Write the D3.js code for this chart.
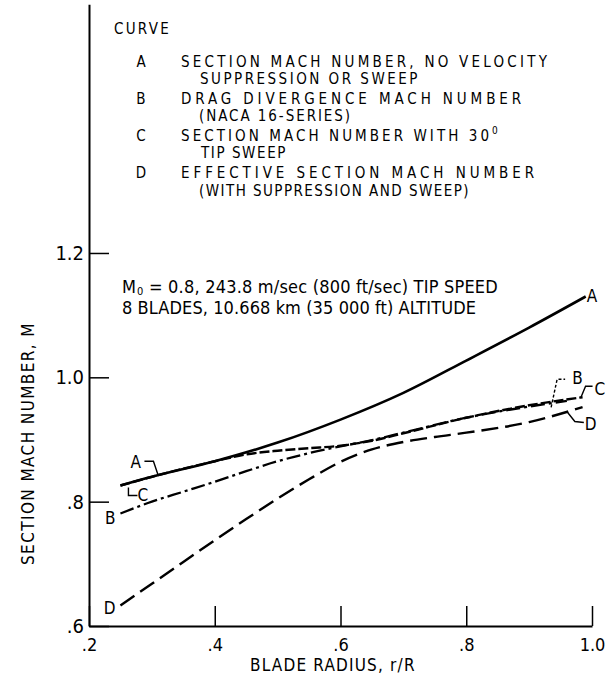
<!DOCTYPE html>
<html>
<head>
<meta charset="utf-8">
<script src="https://cdn.jsdelivr.net/npm/d3@7"></script>
<style>
  html, body { margin: 0; padding: 0; background: #fff; }
  svg { display: block; }
  text { font-family: "DejaVu Sans Condensed", "Liberation Sans Narrow", "DejaVu Sans", sans-serif; font-stretch: condensed; fill: #000; }
</style>
</head>
<body>
<svg id="chart" width="607" height="679"></svg>
<script>
// Section Mach number along the blade radius, r/R -> M
const curveA = [[0.25,0.826],[0.30,0.840],[0.40,0.865],[0.50,0.895],[0.60,0.932],[0.70,0.975],[0.80,1.027],[0.90,1.080],[0.99,1.130]];
const curveB = [[0.25,0.781],[0.30,0.800],[0.35,0.816],[0.40,0.832],[0.45,0.849],[0.50,0.865],[0.55,0.878],[0.60,0.889],[0.65,0.899],[0.70,0.911],[0.80,0.935],[0.90,0.953],[0.96,0.962]];
const curveC = [[0.25,0.826],[0.30,0.840],[0.40,0.865],[0.45,0.876],[0.50,0.882],[0.55,0.886],[0.60,0.890],[0.65,0.898],[0.70,0.910],[0.80,0.935],[0.90,0.955],[0.985,0.968]];
const curveD = [[0.25,0.633],[0.30,0.668],[0.35,0.703],[0.40,0.738],[0.45,0.772],[0.50,0.805],[0.55,0.836],[0.60,0.864],[0.65,0.884],[0.70,0.896],[0.75,0.904],[0.80,0.911],[0.90,0.928],[0.985,0.952]];

const xTicks = [0.2, 0.4, 0.6, 0.8, 1.0];
const xTickLabels = [".2", ".4", ".6", ".8", "1.0"];
const yTicks = [0.6, 0.8, 1.0, 1.2];
const yTickLabels = [".6", ".8", "1.0", "1.2"];

const legendKeys = ["A", "B", "C", "D"];
const legendLines = [
  ["SECTION MACH NUMBER, NO VELOCITY", "SUPPRESSION OR SWEEP"],
  ["DRAG DIVERGENCE MACH NUMBER", "(NACA 16-SERIES)"],
  ["SECTION MACH NUMBER WITH 30", "TIP SWEEP"],
  ["EFFECTIVE SECTION MACH NUMBER", "(WITH SUPPRESSION AND SWEEP)"]
];
const conditionLines = ["= 0.8,  243.8 m/sec (800 ft/sec) TIP SPEED", "8 BLADES,  10.668 km  (35 000 ft) ALTITUDE"];

const svg = d3.select("#chart");
const x = d3.scaleLinear().domain([0.2, 1.0]).range([89, 592]);
const y = d3.scaleLinear().domain([0.6, 1.6]).range([626, 4.3]);

// interpolate a curve's value at a given radius
function at(curve, r) {
  for (let i = 1; i < curve.length; i++) {
    if (r <= curve[i][0]) {
      const [r0, m0] = curve[i - 1], [r1, m1] = curve[i];
      return m0 + (m1 - m0) * (r - r0) / (r1 - r0);
    }
  }
  return curve[curve.length - 1][1];
}
const pt = (curve, r) => [x(r), y(at(curve, r))];

// stretch a run of lettering to a given width with letter spacing
function fit(sel, width) {
  const node = sel.node();
  const n = sel.text().length;
  const w = node.getComputedTextLength();
  sel.attr("letter-spacing", ((width - w) / n).toFixed(2));
  return sel;
}

// axes: ticks point inward
const gx = svg.append("g")
  .attr("transform", "translate(0,626)")
  .call(d3.axisBottom(x).tickValues(xTicks).tickFormat((d, i) => xTickLabels[i])
    .tickSize(-20).tickSizeOuter(0).tickPadding(12));
const gy = svg.append("g")
  .attr("transform", "translate(89,0)")
  .call(d3.axisLeft(y).tickValues(yTicks).tickFormat((d, i) => yTickLabels[i])
    .tickSize(-20).tickSizeOuter(0).tickPadding(5));
[gx, gy].forEach(g => {
  g.attr("font-family", null).attr("font-size", null);
  g.select(".domain").attr("stroke", "#000").attr("stroke-width", 2);
  g.selectAll(".tick line").attr("stroke", "#000").attr("stroke-width", 1.5);
});
gx.selectAll(".tick text").attr("font-size", 18);
gy.selectAll(".tick text").attr("font-size", 20);

// axis titles
fit(svg.append("text")
  .attr("x", 250).attr("y", 671).attr("font-size", 17)
  .text("BLADE RADIUS,  r/R"), 167);
fit(svg.append("text")
  .attr("transform", "translate(33.5,565) rotate(-90)")
  .attr("font-size", 17)
  .text("SECTION MACH NUMBER, M"), 243);

// curves
const line = d3.line().x(d => x(d[0])).y(d => y(d[1])).curve(d3.curveMonotoneX);
const styles = [
  { data: curveD, dash: "17,7", width: 2.4 },
  { data: curveB, dash: "14,4,3,4", width: 2.3 },
  { data: curveC, dash: "10,3", width: 2.4 },
  { data: curveA, dash: null, width: 2.6 }
];
svg.append("g").selectAll("path").data(styles).join("path")
  .attr("d", s => line(s.data))
  .attr("fill", "none").attr("stroke", "#000")
  .attr("stroke-width", s => s.width)
  .attr("stroke-dasharray", s => s.dash)
  .attr("stroke-linecap", "butt");

// curve labels and leaders
const labels = svg.append("g").attr("font-size", 17);
const leader = (pts, dash) => svg.append("path")
  .attr("d", d3.line()(pts)).attr("fill", "none").attr("stroke", "#000")
  .attr("stroke-width", 1.4).attr("stroke-dasharray", dash || null);

const a0 = pt(curveA, 0.25), aL = pt(curveA, 0.31);
labels.append("text").attr("x", a0[0] + 10).attr("y", a0[1] - 17).text("A");
leader([[a0[0] + 24, aL[1] - 14], [a0[0] + 33, aL[1] - 14], [aL[0], aL[1]]]);
labels.append("text").attr("x", a0[0] + 17).attr("y", a0[1] + 16).text("C");
leader([[a0[0] + 8, a0[1] + 2], [a0[0] + 8, a0[1] + 10], [a0[0] + 17, a0[1] + 10]]);
const b0 = pt(curveB, 0.25);
labels.append("text").attr("x", b0[0] - 5).attr("y", b0[1] + 11).attr("text-anchor", "end").text("B");
const d0 = pt(curveD, 0.25);
labels.append("text").attr("x", d0[0] - 5).attr("y", d0[1] + 9).attr("text-anchor", "end").text("D");

const a1 = pt(curveA, 0.99);
labels.append("text").attr("x", a1[0] + 1).attr("y", a1[1] + 6).text("A");
const bL = pt(curveB, 0.935);
leader([[bL[0], bL[1] + 4], [bL[0] + 6, bL[1] - 24], [bL[0] + 14, bL[1] - 24]], "3,2");
labels.append("text").attr("x", bL[0] + 21).attr("y", bL[1] - 19).text("B");
const c1 = pt(curveC, 0.985);
leader([[c1[0] - 2, c1[1] + 1], [c1[0] + 3, c1[1] - 11], [c1[0] + 10, c1[1] - 11]]);
labels.append("text").attr("x", c1[0] + 12).attr("y", c1[1] - 2).text("C");
const dL = pt(curveD, 0.96);
leader([[dL[0], dL[1]], [dL[0] + 8, dL[1] + 10], [dL[0] + 17, dL[1] + 11]]);
labels.append("text").attr("x", dL[0] + 18).attr("y", dL[1] + 18).text("D");

// legend: one text block per curve entry
const legend = svg.append("g").attr("font-size", 15);
fit(legend.append("text").attr("x", 114).attr("y", 34).text("CURVE"), 57);
const rowY = [[66.5, 84], [103.5, 121], [140.5, 158], [178, 195.5]];
const firstW = [369, 344, 311, 357];
const secondX = [200, 199, 201, 199];
const secondW = [220, 153, 86, 271];
legendKeys.forEach((k, i) => {
  legend.append("text").attr("x", 141).attr("y", rowY[i][0]).attr("text-anchor", "middle").text(k);
  const t = legend.append("text");
  fit(t.append("tspan").attr("x", 181).attr("y", rowY[i][0]).text(legendLines[i][0]), firstW[i]);
  if (i === 2) {
    t.append("tspan").attr("y", rowY[i][0] - 7).attr("font-size", 10).text("0");
  }
  fit(t.append("tspan").attr("x", secondX[i]).attr("y", rowY[i][1]).text(legendLines[i][1]), secondW[i]);
});

// operating conditions
const cond = svg.append("text").attr("font-size", 18);
cond.append("tspan").attr("x", 122).attr("y", 293).text("M");
cond.append("tspan").attr("x", 137).attr("y", 294.5).attr("font-size", 11).text("0");
fit(cond.append("tspan").attr("x", 149).attr("y", 293).text(conditionLines[0]), 349);
fit(cond.append("tspan").attr("x", 122).attr("y", 314).text(conditionLines[1]), 354);
</script>
</body>
</html>
